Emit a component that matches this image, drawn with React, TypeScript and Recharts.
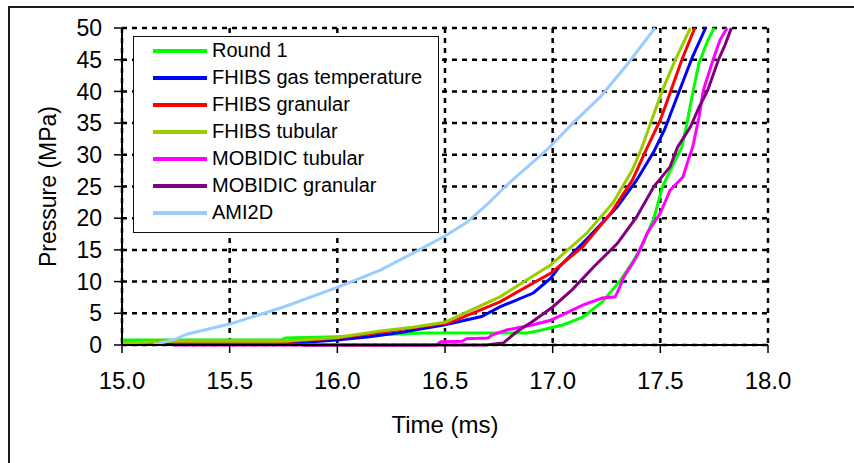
import { LineChart, Line, XAxis, YAxis, CartesianGrid, Legend } from "recharts";

const timeTicks = [15.0, 15.5, 16.0, 16.5, 17.0, 17.5, 18.0];
const pressureTicks = [0, 5, 10, 15, 20, 25, 30, 35, 40, 45, 50];

// [time (ms), pressure (MPa)]
const round1 = [
  [15.0, 0.8], [15.74, 0.8], [15.76, 1.1], [16.0, 1.3], [16.2, 1.6], [16.4, 1.9],
  [16.88, 1.9], [16.94, 2.3], [17.05, 3.2], [17.14, 4.4], [17.23, 6.8], [17.31, 10.0],
  [17.37, 13.0], [17.42, 16.0], [17.47, 20.0], [17.51, 25.0], [17.56, 28.5],
  [17.6, 31.2], [17.624, 35.0], [17.65, 39.7], [17.68, 44.5], [17.72, 48.0], [17.75, 50.0],
];
const fhibsGasTemp = [
  [15.0, 0.2], [15.8, 0.3], [16.0, 0.8], [16.15, 1.3], [16.3, 2.0], [16.5, 3.2],
  [16.67, 4.5], [16.755, 6.0], [16.91, 8.2], [16.99, 10.5], [17.03, 12.3], [17.17, 17.1],
  [17.3, 21.8], [17.39, 26.0], [17.47, 30.5], [17.52, 34.0], [17.565, 38.0],
  [17.61, 42.0], [17.65, 45.5], [17.71, 50.0],
];
const fhibsGranular = [
  [15.0, 0.3], [15.25, 0.5], [15.75, 0.5], [16.0, 1.1], [16.2, 2.0], [16.35, 2.7],
  [16.52, 3.5], [16.755, 6.8], [16.99, 11.3], [17.14, 15.5], [17.27, 20.8],
  [17.37, 26.0], [17.44, 31.2], [17.5, 35.5], [17.55, 40.2], [17.6, 45.0], [17.66, 50.0],
];
const fhibsTubular = [
  [15.0, 0.3], [15.25, 0.6], [15.75, 0.6], [16.0, 1.2], [16.2, 2.2], [16.35, 2.8],
  [16.5, 3.6], [16.755, 7.6], [16.99, 12.6], [17.16, 17.7], [17.28, 22.4],
  [17.37, 27.6], [17.415, 31.2], [17.46, 35.5], [17.51, 40.2], [17.57, 45.0], [17.64, 50.0],
];
const mobidicTubular = [
  [15.24, 0.0], [16.46, 0.0], [16.48, 0.5], [16.58, 0.6], [16.6, 1.0], [16.7, 1.1],
  [16.72, 1.6], [16.79, 2.4], [16.91, 3.2], [16.99, 3.9], [17.14, 6.3], [17.23, 7.4],
  [17.29, 7.6], [17.31, 9.0], [17.33, 10.7], [17.39, 13.9], [17.44, 17.7], [17.5, 20.8],
  [17.545, 24.4], [17.605, 26.5], [17.63, 29.2], [17.65, 31.2], [17.68, 36.0],
  [17.7, 40.2], [17.745, 45.0], [17.777, 48.1], [17.81, 50.0],
];
const mobidicGranular = [
  [15.84, 0.0], [16.69, 0.0], [16.77, 0.3], [16.83, 2.0], [16.91, 3.8], [17.0, 6.0],
  [17.09, 8.7], [17.19, 12.3], [17.3, 16.0], [17.39, 20.2], [17.47, 25.0],
  [17.545, 28.1], [17.58, 31.2], [17.64, 34.4], [17.68, 37.5], [17.72, 40.2],
  [17.77, 45.0], [17.8, 47.3], [17.83, 50.0],
];
const ami2d = [
  [15.144, 0.0], [15.255, 1.0], [15.3, 1.7], [15.5, 3.3], [15.75, 6.0], [16.0, 9.1],
  [16.2, 11.8], [16.38, 15.0], [16.5, 17.2], [16.6, 19.3], [16.7, 22.3], [16.78, 25.0],
  [16.974, 30.8], [17.094, 35.0], [17.22, 39.1], [17.345, 44.2], [17.475, 50.0],
];

const series = [
  { name: "Round 1", color: "#00FF00", points: round1 },
  { name: "FHIBS gas temperature", color: "#0000FF", points: fhibsGasTemp },
  { name: "FHIBS granular", color: "#FF0000", points: fhibsGranular },
  { name: "FHIBS tubular", color: "#99CC00", points: fhibsTubular },
  { name: "MOBIDIC tubular", color: "#FF00FF", points: mobidicTubular },
  { name: "MOBIDIC granular", color: "#800080", points: mobidicGranular },
  { name: "AMI2D", color: "#99CCFF", points: ami2d },
];

const FONT = "Arial, 'Liberation Sans', sans-serif";

const toData = (pts: number[][]) => pts.map(([t, p]) => ({ t, p }));

const LegendBox = () => (
  <div
    style={{
      width: 306,
      height: 197,
      boxSizing: "border-box",
      border: "1px solid #111",
      background: "#fff",
      fontFamily: FONT,
      fontSize: 20,
      color: "#000",
    }}
  >
    {series.map((s) => (
      <div key={s.name} style={{ display: "flex", alignItems: "center", height: 27, whiteSpace: "nowrap" }}>
        <span style={{ display: "inline-block", marginLeft: 19, width: 54, height: 4, background: s.color }} />
        <span style={{ marginLeft: 5 }}>{s.name}</span>
      </div>
    ))}
  </div>
);

const YTitle = (props: any) => {
  const vb = props.viewBox;
  const cx = vb.x + 48;
  const cy = vb.y + vb.height / 2;
  return (
    <text x={cx} y={cy} transform={`rotate(-90 ${cx} ${cy})`} textAnchor="middle" dominantBaseline="central"
      fontSize={23} fontFamily={FONT} fill="#000">
      Pressure (MPa)
    </text>
  );
};

const XTitle = (props: any) => {
  const vb = props.viewBox;
  return (
    <text x={vb.x + vb.width / 2} y={vb.y + 88} textAnchor="middle" fontSize={24} fontFamily={FONT} fill="#000">
      Time (ms)
    </text>
  );
};

export default function App() {
  return (
    <div style={{ position: "fixed", left: 0, top: 0, width: 854, height: 463, background: "#fff", overflow: "hidden" }}>
      <div style={{ position: "absolute", left: 8, top: 6, width: 900, height: 500, border: "2px solid #1a1a1a" }} />
      <LineChart width={854} height={463} margin={{ top: 28, right: 86, bottom: 0, left: 0 }}>
        <CartesianGrid stroke="#000" strokeWidth={2.5} strokeDasharray="5 5" />
        <XAxis
          dataKey="t"
          type="number"
          domain={[15, 18]}
          ticks={timeTicks}
          tickFormatter={(v: number) => v.toFixed(1)}
          height={118}
          tickSize={8}
          tickMargin={19}
          axisLine={{ stroke: "#000", strokeWidth: 2 }}
          tickLine={{ stroke: "#000", strokeWidth: 1.5 }}
          tick={{ fill: "#000", fontSize: 24, fontFamily: FONT }}
          label={{ content: XTitle }}
        />
        <YAxis
          dataKey="p"
          type="number"
          domain={[0, 50]}
          ticks={pressureTicks}
          width={122}
          tickSize={8}
          tickMargin={12}
          axisLine={{ stroke: "#000", strokeWidth: 2 }}
          tickLine={{ stroke: "#000", strokeWidth: 1.5 }}
          tick={{ fill: "#000", fontSize: 23, fontFamily: FONT }}
          label={{ content: YTitle }}
        />
        <Legend
          layout="vertical"
          align="center"
          verticalAlign="middle"
          content={LegendBox}
          wrapperStyle={{ left: 133, top: 36, width: 306, height: 197 }}
        />
        {series.map((s) => (
          <Line
            key={s.name}
            data={toData(s.points)}
            dataKey="p"
            name={s.name}
            type="linear"
            stroke={s.color}
            strokeWidth={3}
            dot={false}
            activeDot={false}
            isAnimationActive={false}
          />
        ))}
      </LineChart>
    </div>
  );
}
